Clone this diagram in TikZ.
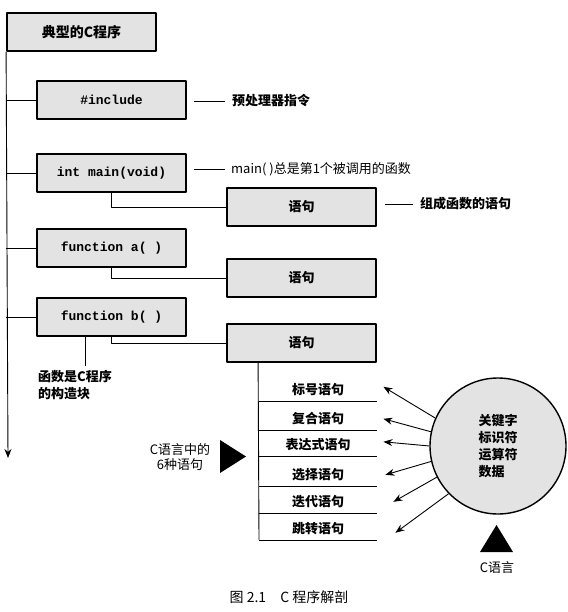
\documentclass[tikz,border=0pt]{standalone}
\usepackage{fontspec}
\setmainfont{Noto Sans CJK SC}
\setmonofont{Liberation Mono}
\usetikzlibrary{arrows.meta,calc,positioning}
\tikzset{blk/.style={draw,line width=1.8pt,fill=gray!22,minimum width=149,minimum height=38,inner sep=0pt},
  conn/.style={line width=0.9pt},
  note/.style={anchor=west,inner sep=0pt,font=\fontsize{13}{15}\selectfont\bfseries},
  kind/.style={anchor=south west,minimum width=118,minimum height=22,inner sep=0pt,font=\fontsize{13}{15}\selectfont\bfseries}}

\begin{document}
\begin{tikzpicture}[x=1pt,y=-1pt,>={Stealth[length=9pt,width=7pt]},line join=round,font=\fontsize{13}{15}\selectfont]
\useasboundingbox (0,0) rectangle (567,612);
% --- program skeleton
\node[blk,font=\fontsize{14}{16}\selectfont\bfseries] (prog) at (81.5,32) {典型的C程序};
\node[blk,font=\ttfamily\fontsize{13}{15}\selectfont\bfseries] (incl) at (111.5,100) {\#include};
\node[blk,font=\ttfamily\fontsize{13}{15}\selectfont\bfseries] (mainf) at (111.5,173) {int main(void)};
\node[blk,font=\ttfamily\fontsize{13}{15}\selectfont\bfseries] (funa) at (111.5,248) {function a( )};
\node[blk,font=\ttfamily\fontsize{13}{15}\selectfont\bfseries] (funb) at (111.5,317) {function b( )};
\node[blk,font=\fontsize{13}{15}\selectfont\bfseries] (stmta) at (301.5,207) {语句};
\node[blk,font=\fontsize{13}{15}\selectfont\bfseries] (stmtb) at (301.5,278) {语句};
\node[blk,font=\fontsize{13}{15}\selectfont\bfseries] (stmtc) at (301.5,343) {语句};
\coordinate (trunkend) at (8,458);
\draw[conn,->] (prog.south west) -- (trunkend);
\foreach \bx in {incl,mainf,funa,funb} {\draw[conn] (\bx.west) -- (\bx.west -| prog.south west);}
\draw[conn] (mainf.south) |- (stmta.west);
\draw[conn] (funa.south) |- (stmtb.west);
\draw[conn] (funb.south) |- (stmtc.west);
% --- notes
\node[note] (ninc) at (232,101) {预处理器指令};
\node[note,font=\fontsize{13}{15}\selectfont] (nmain) at (231,169) {main( )总是第1个被调用的函数};
\node[note] (nstmt) at (420,204) {组成函数的语句};
\draw[conn] ([xshift=-7]ninc.west) -- ++(-31,0);
\draw[conn] ([xshift=-6]nmain.west) -- ++(-31,0);
\draw[conn] ([xshift=-7]nstmt.west) -- ++(-28,0);
\node[anchor=north west,align=left,inner sep=0pt,font=\fontsize{13}{17}\selectfont\bfseries] (nblock) at (38,370) {函数是C程序\\的构造块};
\draw[conn] ([xshift=-26]funb.south) -- ++(0,29);
% --- six kinds of statements
\coordinate (spine) at ($(stmtc.south west)+(32,0)$);
\node[kind] (k1) at (259,401) {标号语句};
\node[kind] (k2) at (259,430) {复合语句};
\node[kind] (k3) at (259,456) {表达式语句};
\node[kind] (k4) at (259,486) {选择语句};
\node[kind] (k5) at (259,513) {迭代语句};
\node[kind] (k6) at (259,540) {跳转语句};
\draw[conn] (spine) -- (k6.south west);
\foreach \k in {k1,k2,k3,k4,k5,k6} {\draw[conn] (\k.south west) -- (\k.south east);}
\node[draw,circle,line width=1.4pt,fill=gray!22,minimum size=136,inner sep=0pt,align=left,font=\fontsize{13}{17}\selectfont\bfseries] (elem) at (498,446) {关键字\\标识符\\运算符\\数据};
\draw[conn,->] (elem.156) -- ([xshift=6,yshift=3]k1.east);
\draw[conn,->] (elem.168) -- ([xshift=6,yshift=0]k2.east);
\draw[conn,->] (elem.180) -- ([xshift=6,yshift=3]k3.east);
\draw[conn,->] (elem.193) -- ([xshift=8,yshift=0]k4.east);
\draw[conn,->] (elem.207) -- ([xshift=16,yshift=0]k5.east);
\draw[conn,->] (elem.224) -- ([xshift=18,yshift=-4]k6.east);
% --- pointers
\fill (220,440) -- (246,456.5) -- (220,473) -- cycle;
\node[align=center,inner sep=0pt] (nsix) at (180,457) {C语言中的\\6种语句};
\fill (480,552) -- (496.5,525) -- (513,552) -- cycle;
\node[inner sep=0pt] (nlang) at (497,568) {C语言};
\node[inner sep=0pt,font=\fontsize{14}{16}\selectfont] (capt) at (289,597) {图 2.1\quad C 程序解剖};
\end{tikzpicture}
\end{document}
